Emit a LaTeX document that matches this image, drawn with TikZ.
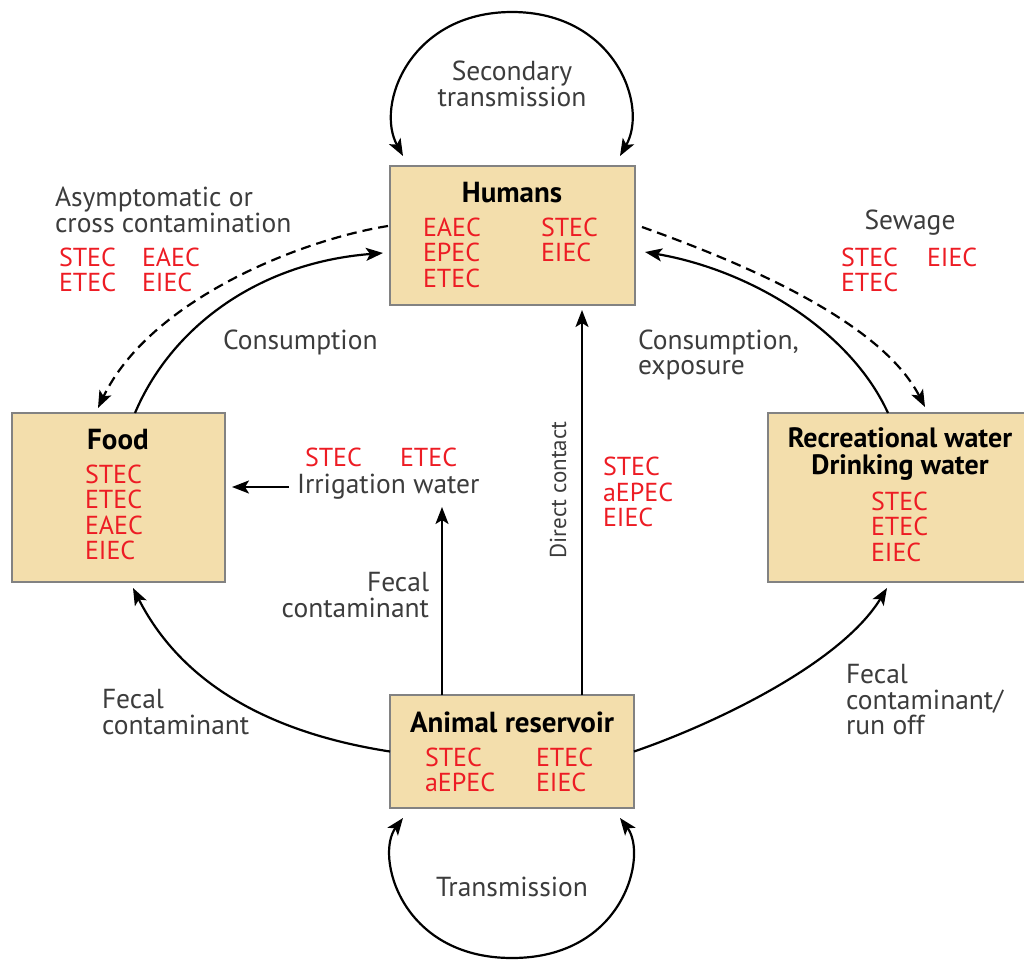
\documentclass[tikz,border=0pt]{standalone}
\usepackage{fontspec}
\setmainfont{PT Sans}
\usetikzlibrary{arrows.meta,calc}
\definecolor{boxtan}{RGB}{243,222,172}
\definecolor{boxline}{RGB}{130,130,130}
\definecolor{strainred}{RGB}{237,28,36}
\definecolor{txtgray}{RGB}{60,60,60}

\begin{document}
\begin{tikzpicture}
  [x=1pt,y=-1pt,
   every node/.style={inner sep=0pt,outer sep=0pt,font=\fontsize{26}{25.5}\selectfont},
   box/.style={rectangle,draw=boxline,fill=boxtan,line width=2pt},
   lbl/.style={text=txtgray,font=\fontsize{27.5}{25.5}\selectfont},
   strain/.style={text=strainred,anchor=west},
   ttl/.style={font=\fontsize{29}{26}\selectfont\bfseries},
   arr/.style={line width=2.2pt,-{Stealth[length=17pt,width=13pt,inset=4pt]}},
   both/.style={line width=2.2pt,{Stealth[length=17pt,width=13pt,inset=4pt]}-{Stealth[length=17pt,width=13pt,inset=4pt]}},
   dashline/.style={arr,dash pattern=on 10pt off 6pt}]
  \useasboundingbox (0,0) rectangle (1024,961);

  % boxes
  \node[box,minimum width=245,minimum height=139] (hum) at (512.5,235.5) {};
  \node[box,minimum width=213,minimum height=169] (food) at (118.5,497.5) {};
  \node[box,minimum width=260,minimum height=169] (wat) at (898,497.5) {};
  \node[box,minimum width=244,minimum height=113] (ani) at (512,751.5) {};

  % titles
  \node[ttl] (humt) at (512,193) {Humans};
  \node[ttl] (foodt) at (118,440) {Food};
  \node[ttl,align=center,font=\fontsize{28}{27.5}\selectfont\bfseries] (watt) at (900,454) {Recreational water\\Drinking water};
  \node[ttl] (anit) at (512,722) {Animal reservoir};

  % strains
  \foreach \s/\x/\y [count=\i] in {EAEC/423/227,EPEC/423/252,ETEC/423/278,STEC/541/227,EIEC/541/252,
      STEC/85/474,ETEC/85/499,EAEC/85/525,EIEC/85/550,
      STEC/871/501,ETEC/871/526,EIEC/871/552,
      STEC/425/757,aEPEC/425/782,ETEC/536/757,EIEC/536/782,
      STEC/59/257,ETEC/59/282,EAEC/142/257,EIEC/142/282,
      STEC/841/257,ETEC/841/282,EIEC/927/257,
      STEC/305/457,ETEC/400/457,
      STEC/603/466,aEPEC/603/492,EIEC/603/517}
    \node[strain] (s\i) at (\x,\y) {\s};

  % labels
  \node[lbl,align=center] (sec) at (512,84) {Secondary\\transmission};
  \node[lbl,align=left,anchor=west] (asym) at (55,210) {Asymptomatic or\\cross contamination};
  \node[lbl,anchor=west] (cons) at (223,342) {Consumption};
  \node[lbl] (sew) at (910,223) {Sewage};
  \node[lbl,align=left,anchor=west] (consx) at (638,355) {Consumption,\\exposure};
  \node[lbl,anchor=west] (irr) at (297,487) {Irrigation water};
  \node[lbl,rotate=90,font=\fontsize{23}{25}\selectfont] (dc) at (558,490) {Direct contact};
  \node[lbl,align=right,anchor=east] (fc1) at (429,595) {Fecal\\contaminant};
  \node[lbl,align=left,anchor=west] (fc2) at (102,712) {Fecal\\contaminant};
  \node[lbl,align=left,anchor=west] (fc3) at (846,700) {Fecal\\contaminant/\\run off};
  \node[lbl] (trans) at (512,887) {Transmission};

  % loops
  \draw[both] ($(hum.north west)+(13,-10)$) .. controls +(-28,-51) and +(-102,0) .. (512,12)
    .. controls +(102,0) and +(29,-51) .. ($(hum.north east)+(-15,-10)$);
  \draw[both] ($(ani.south west)+(13,10)$) .. controls +(-28,37) and +(-112,0) .. (512,958)
    .. controls +(112,0) and +(28,37) .. ($(ani.south east)+(-14,10)$);

  % cycle
  \draw[dashline] ($(hum.north west)+(-2,60)$) .. controls +(-88,14) and +(52,-108) .. ($(food.north west)+(86,-5)$);
  \draw[arr] ($(food.north west)+(123,0)$) .. controls +(35,-83) and +(-128,10) .. ($(hum.north west)+(-7,87)$);
  \draw[dashline] ($(hum.north east)+(7,61)$) .. controls +(98,35) and +(-45,-87) .. ($(wat.north west)+(157,-6)$);
  \draw[arr] ($(wat.north west)+(120,0)$) .. controls +(-38,-83) and +(105,18) .. ($(hum.north east)+(10,86)$);
  \draw[arr] (ani.west) .. controls +(-110,-17) and +(52,102) .. ($(food.south west)+(121,6)$);
  \draw[arr] (ani.east) .. controls +(76,-26) and +(-47,77) .. ($(wat.south west)+(119,6)$);

  % straight ones
  \coordinate (fcfoot) at ($(ani.north west)+(52,0)$);
  \coordinate (dcfoot) at ($(ani.north west)+(192,0)$);
  \draw[arr] (fcfoot) -- ++(0,-188);
  \draw[arr,shorten >=5pt] (dcfoot) -- (dcfoot |- hum.south);
  \draw[arr] ($(irr.west)+(-8,0)$) -- ($(food.east |- irr.west)+(7,0)$);
\end{tikzpicture}
\end{document}
